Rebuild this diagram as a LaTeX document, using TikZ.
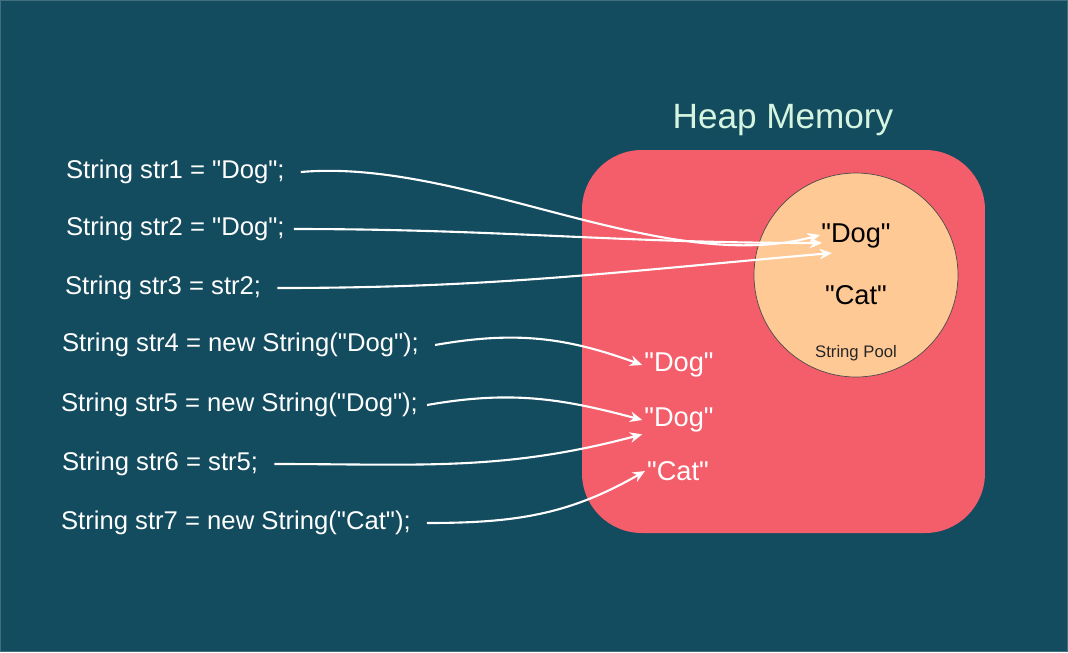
\documentclass[tikz,border=0pt]{standalone}
\usepackage{fontspec}
\setmainfont{Liberation Sans}[Ligatures=TeXOff]
\usetikzlibrary{arrows.meta}
\definecolor{bgteal}{HTML}{134B5F}
\definecolor{heapred}{HTML}{F45D6A}
\definecolor{poolorange}{HTML}{FFC995}
\definecolor{titlegreen}{HTML}{D6F5E0}
\tikzset{
  decl/.style={anchor=west,text=white,font=\fontsize{14.6}{17}\selectfont,inner sep=1pt},
  obj/.style={text=white,font=\fontsize{15.5}{18}\selectfont,inner sep=1pt},
  pooled/.style={text=black,font=\fontsize{15.5}{18}\selectfont,inner sep=1pt},
  ref/.style={draw=white,line width=1.2pt,-{Stealth[length=7pt,width=6pt]}}
}
\begin{document}
\begin{tikzpicture}[x=0.02cm,y=-0.02cm]
\fill[bgteal] (0,0) rectangle (1068,652);
\draw[bgteal!80!white,line width=0.6pt] (0.5,0.5) rectangle (1067.5,651.5);
\fill[heapred,rounded corners=34] (582,150) rectangle (985,533);
\draw[black!70,fill=poolorange] (856,275) circle[radius=102];
\node[text=titlegreen,font=\fontsize{20}{24}\selectfont] (title) at (783,120) {Heap Memory};

% pooled strings
\node[pooled] (pdog) at (856,236) {"Dog"};
\node[pooled] (pcat) at (856,295) {"Cat"};
\node[text=black!85,font=\fontsize{9.5}{11}\selectfont] (pool) at (856,353) {String Pool};

% heap objects
\node[obj] (hdoga) at (679,365) {"Dog"};
\node[obj] (hdogb) at (679,420) {"Dog"};
\node[obj] (hcat) at (678,471) {"Cat"};

% declarations
\node[decl] (s1) at (64,172) {String str1 = "Dog";};
\node[decl] (s2) at (64,229) {String str2 = "Dog";};
\node[decl] (s3) at (63,288) {String str3 = str2;};
\node[decl] (s4) at (60,345) {String str4 = new String("Dog");};
\node[decl] (s5) at (59,405) {String str5 = new String("Dog");};
\node[decl] (s6) at (60,464) {String str6 = str5;};
\node[decl] (s7) at (59,523) {String str7 = new String("Cat");};

\coordinate (t1) at (820,235);
\coordinate (t2) at (822,243);
\coordinate (t3) at (832,253);
\draw[ref] ([xshift=8]s1.east) to[out=5,in=195,looseness=0.8] (t1);
\draw[ref] ([xshift=4]s2.east) to[out=0,in=180] (t2);
\draw[ref] ([xshift=8]s3.east) to[out=0,in=185] (t3);
\draw[ref] ([xshift=8]s4.east) to[out=10,in=160] (hdoga.west);
\draw[ref] ([xshift=4]s5.east) to[out=10,in=165] (hdogb.west);
\draw[ref] ([xshift=8]s6.east) to[out=0,in=195] (hdogb.south west);
\draw[ref] ([xshift=8]s7.east) to[out=0,in=210] (hcat.west);
\end{tikzpicture}
\end{document}
